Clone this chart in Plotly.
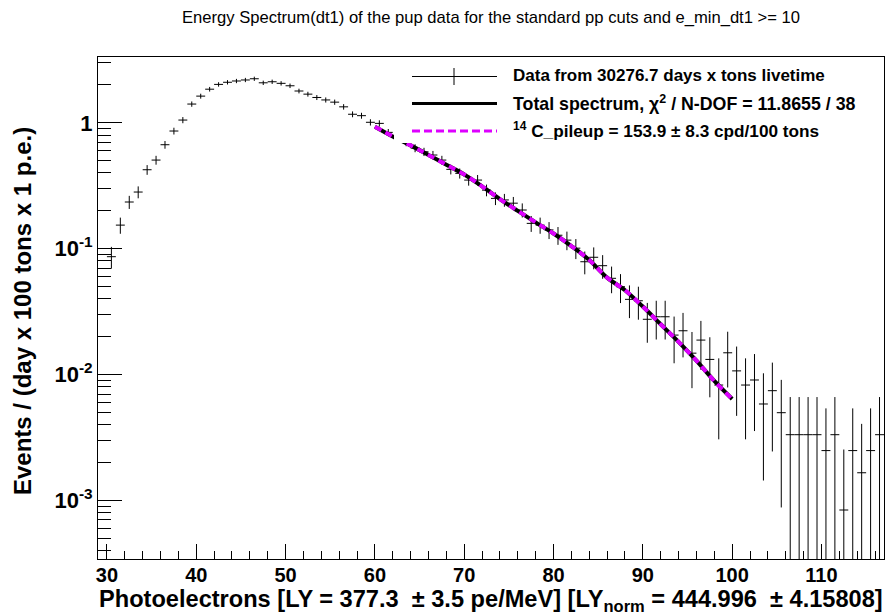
import plotly.graph_objects as go

# ---------------- data ----------------
bin_centers = [30.5, 31.5, 32.5, 33.5, 34.5, 35.5, 36.5, 37.5, 38.5, 39.5,
               40.5, 41.5, 42.5, 43.5, 44.5, 45.5, 46.5, 47.5, 48.5, 49.5,
               50.5, 51.5, 52.5, 53.5, 54.5, 55.5, 56.5, 57.5, 58.5, 59.5,
               60.5, 61.5, 62.5, 63.5, 64.5, 65.5, 66.5, 67.5, 68.5, 69.5,
               70.5, 71.5, 72.5, 73.5, 74.5, 75.5, 76.5, 77.5, 78.5, 79.5,
               80.5, 81.5, 82.5, 83.5, 84.5, 85.5, 86.5, 87.5, 88.5, 89.5,
               90.5, 91.5, 92.5, 93.5, 94.5, 95.5, 96.5, 97.5, 98.5, 99.5,
               100.5, 101.5, 102.5, 103.5, 104.5, 105.5, 106.5, 107.5, 108.5, 109.5,
               110.5, 111.5, 112.5, 113.5, 114.5, 115.5, 116.5]

rate = [0.0864, 0.154, 0.235, 0.282, 0.424, 0.506, 0.670, 0.861, 1.052, 1.41,
        1.63, 1.85, 2.02, 2.10, 2.15, 2.19, 2.24, 2.08, 2.12, 2.06,
        1.97, 1.79, 1.69, 1.59, 1.52, 1.46, 1.34, 1.17, 1.14, 1.01,
        0.99, 0.84, 0.77, 0.70, 0.63, 0.589, 0.555, 0.506, 0.427, 0.397,
        0.351, 0.351, 0.292, 0.251, 0.244, 0.230, 0.203, 0.159, 0.154, 0.141,
        0.128, 0.117, 0.101, 0.0788, 0.0855, 0.0733, 0.0582, 0.0499, 0.0396, 0.0386,
        0.0275, 0.0288, 0.0288, 0.0206, 0.0223, 0.0148, 0.0188, 0.0132, 0.00826, 0.0149,
        0.0107, 0.00826, 0.00906, 0.00584, 0.00745, 0.00498, 0.00333, 0.00333, 0.00333, 0.00333,
        0.00249, 0.00333, 0.00084, 0.00249, 0.00166, 0.00249, 0.00333]

rate_err = [0.0170, 0.0226, 0.0280, 0.0306, 0.0376, 0.0410, 0.0472, 0.0535, 0.0592, 0.0685,
            0.0737, 0.0785, 0.0820, 0.0836, 0.0846, 0.0854, 0.0864, 0.0832, 0.0840, 0.0828,
            0.0810, 0.0772, 0.0750, 0.0728, 0.0711, 0.0697, 0.0668, 0.0624, 0.0616, 0.0580,
            0.0574, 0.0529, 0.0506, 0.0483, 0.0458, 0.0443, 0.0430, 0.0410, 0.0377, 0.0364,
            0.0342, 0.0342, 0.0312, 0.0289, 0.0285, 0.0277, 0.0260, 0.0230, 0.0226, 0.0217,
            0.0207, 0.0197, 0.0183, 0.0162, 0.0169, 0.0156, 0.0139, 0.0129, 0.0115, 0.0113,
            0.0096, 0.0098, 0.0098, 0.0083, 0.0086, 0.0070, 0.0079, 0.0066, 0.0052, 0.0070,
            0.0060, 0.0052, 0.0055, 0.0044, 0.0050, 0.0041, 0.0033, 0.0033, 0.0033, 0.0033,
            0.0029, 0.0033, 0.0017, 0.0029, 0.0024, 0.0029, 0.0033]

fit_x = [60, 62, 64, 66, 68, 70, 72, 74, 76, 78, 80, 82, 84, 86, 88, 90, 92, 94, 96, 98, 100]
fit_y = [0.933, 0.780, 0.662, 0.556, 0.465, 0.389, 0.313, 0.248, 0.200, 0.162, 0.132,
         0.105, 0.0813, 0.0589, 0.0468, 0.0347, 0.0251, 0.0182, 0.0129, 0.0089, 0.0064]

y_major = [0.001, 0.01, 0.1, 1]
y_major_text = ["10<sup>-3</sup>", "10<sup>-2</sup>", "10<sup>-1</sup>", "1"]
y_minor = [4e-4, 5e-4, 6e-4, 7e-4, 8e-4, 9e-4,
           2e-3, 3e-3, 4e-3, 5e-3, 6e-3, 7e-3, 8e-3, 9e-3,
           2e-2, 3e-2, 4e-2, 5e-2, 6e-2, 7e-2, 8e-2, 9e-2,
           0.2, 0.3, 0.4, 0.5, 0.6, 0.7, 0.8, 0.9, 2, 3]

title_text = "Energy Spectrum(dt1) of the pup data for the standard pp cuts and e_min_dt1 >= 10"
xtitle = "Photoelectrons [LY = 377.3  ± 3.5 pe/MeV] [LY<sub>norm</sub> = 444.996  ± 4.15808]"
ytitle = "Events / (day x 100 tons x 1 p.e.)"
leg_texts = ["Data from 30276.7 days x tons livetime",
             "Total spectrum, χ<sup>2</sup> / N-DOF = 11.8655 / 38",
             "<sup>14</sup> C_pileup = 153.9 ± 8.3 cpd/100 tons"]

MAG = "#dd00ff"
FONT = "Liberation Sans, Arial, sans-serif"

fig = go.Figure()
fig.add_trace(go.Scatter(
    x=bin_centers, y=rate, mode="markers",
    marker=dict(size=1, color="black", opacity=0),
    error_y=dict(type="data", array=rate_err, symmetric=True, width=0, thickness=1, color="black"),
    error_x=dict(type="constant", value=0.5, width=0, thickness=1, color="black"),
    showlegend=False))
fig.add_trace(go.Scatter(x=fit_x, y=fit_y, mode="lines", line=dict(color="black", width=4, shape="spline"),
                         showlegend=False))
fig.add_trace(go.Scatter(x=fit_x, y=fit_y, mode="lines",
                         line=dict(color=MAG, width=4, dash="7px,5px", shape="spline"),
                         showlegend=False))

W, H = 891, 615
L, R, T, B = 98, 884, 57, 559

def px(x):
    return (x - L) / (R - L)

def py(y):
    return (B - y) / (B - T)

shapes = [
    dict(type="rect", xref="paper", yref="paper", x0=px(394), x1=px(883), y0=py(143), y1=py(58),
         fillcolor="white", line=dict(width=0), layer="above"),
    dict(type="line", xref="paper", yref="paper", x0=px(412), x1=px(497), y0=py(76.5), y1=py(76.5),
         line=dict(color="black", width=1), layer="above"),
    dict(type="line", xref="paper", yref="paper", x0=px(454), x1=px(454), y0=py(68), y1=py(85),
         line=dict(color="black", width=1), layer="above"),
    dict(type="line", xref="paper", yref="paper", x0=px(412), x1=px(497), y0=py(103.5), y1=py(103.5),
         line=dict(color="black", width=3), layer="above"),
    dict(type="line", xref="paper", yref="paper", x0=px(412), x1=px(497), y0=py(131), y1=py(131),
         line=dict(color=MAG, width=3, dash="8px,4px"), layer="above"),
]

annotations = []
for txt, yy, sz in zip(leg_texts, [76, 103, 130], [17.0, 17.8, 17.2]):
    annotations.append(dict(text=txt, xref="paper", yref="paper", x=px(511), y=py(yy),
                            xanchor="left", yanchor="middle", showarrow=False,
                            font=dict(family=FONT, size=sz, color="black", weight="bold")))
annotations.append(dict(text=xtitle, xref="paper", yref="paper", x=px(885), y=py(601),
                        xanchor="right", yanchor="middle", showarrow=False,
                        font=dict(family=FONT, size=23.6, color="black", weight="bold")))
annotations.append(dict(text=ytitle, xref="paper", yref="paper", x=px(22), y=py(311),
                        xanchor="center", yanchor="middle", showarrow=False, textangle=-90,
                        font=dict(family=FONT, size=24, color="black", weight="bold")))

fig.update_layout(
    width=W, height=H,
    margin=dict(l=L, r=W - R, t=T, b=H - B, pad=0),
    paper_bgcolor="white", plot_bgcolor="white",
    title=dict(text=title_text, xref="container", x=491 / W, xanchor="center",
               yref="container", y=1 - 17 / H, yanchor="middle",
               font=dict(family=FONT, size=16.6, color="black")),
    shapes=shapes, annotations=annotations,
    showlegend=False,
    xaxis=dict(range=[29, 117], showgrid=False, zeroline=False, showline=True, mirror=True,
               linecolor="black", linewidth=1, ticks="inside", ticklen=15, tickwidth=1, tickcolor="black",
               tick0=0, dtick=10, ticklabelstandoff=-2,
               tickfont=dict(family=FONT, size=20, color="black", weight="bold"),
               minor=dict(ticks="inside", ticklen=8, dtick=2, tick0=0, tickcolor="black", showgrid=False)),
    yaxis=dict(type="log", range=[-3.465, 0.523], showgrid=False, zeroline=False, showline=True, mirror=True,
               linecolor="black", linewidth=1, ticks="inside", ticklen=24, tickwidth=1, tickcolor="black",
               tickmode="array", tickvals=y_major, ticktext=y_major_text,
               tickfont=dict(family=FONT, size=22, color="black", weight="bold"),
               minor=dict(ticks="inside", ticklen=13, tickmode="array", tickvals=y_minor,
                          tickcolor="black", showgrid=False)),
)

fig.write_html("out.html")
